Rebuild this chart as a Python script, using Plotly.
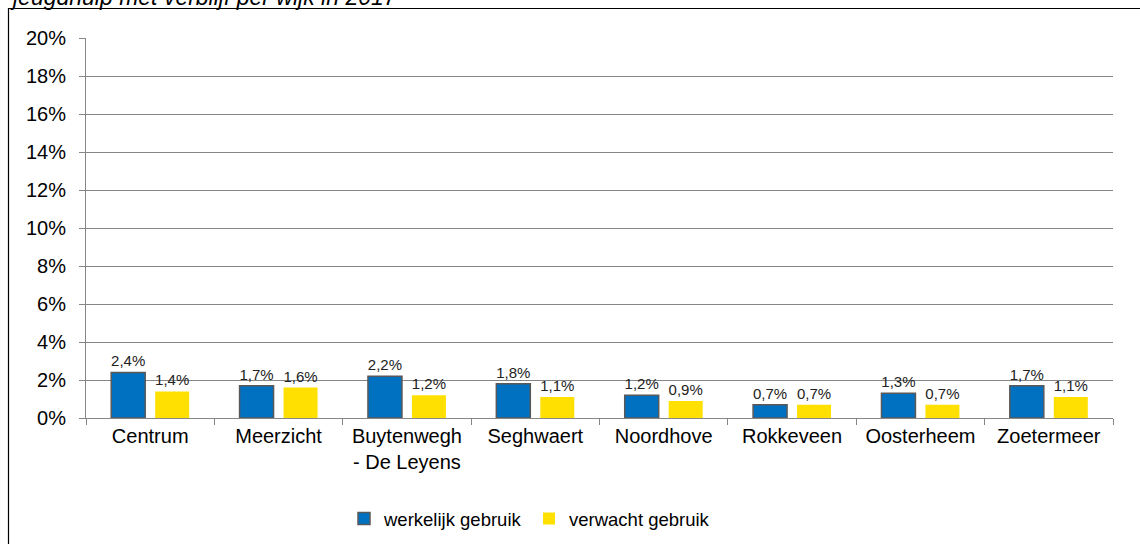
import plotly.graph_objects as go

categories = ["Centrum", "Meerzicht", "Buytenwegh<br>- De Leyens", "Seghwaert",
              "Noordhove", "Rokkeveen", "Oosterheem", "Zoetermeer"]
werkelijk = [2.4, 1.7, 2.2, 1.8, 1.2, 0.7, 1.3, 1.7]
verwacht = [1.4, 1.6, 1.2, 1.1, 0.9, 0.7, 0.7, 1.1]
title_text = "jeugdhulp met verblijf per wijk in 2017"

W, H = 1140, 544
L, R, T, B = 86, 27, 38, 126
pw, ph = W - L - R, H - T - B

def px(x):
    return (x - L) / pw

def py(y):
    return (H - B - y) / ph

fig = go.Figure()
fig.add_trace(go.Bar(
    x=categories, y=werkelijk, name="werkelijk gebruik",
    marker=dict(color="#0070C0", line=dict(color="#595959", width=1.5)),
    texttemplate="%{y:.1f}%", textposition="outside",
    textfont=dict(size=15, color="#222222"), cliponaxis=False,
))
fig.add_trace(go.Bar(
    x=categories, y=verwacht, name="verwacht gebruik",
    marker=dict(color="#FFE000", line=dict(width=0)),
    texttemplate="%{y:.1f}%", textposition="outside",
    textfont=dict(size=15, color="#222222"), cliponaxis=False,
))

fig.update_layout(
    width=W, height=H,
    margin=dict(l=L, r=R, t=T, b=B, autoexpand=False),
    paper_bgcolor="white", plot_bgcolor="white",
    separators=",.",
    barmode="group", bargap=0.315, bargroupgap=0.227,
    font=dict(family="Arial, Liberation Sans, sans-serif", size=20, color="#000000"),
    showlegend=True,
    legend=dict(orientation="h", x=px(344), xanchor="left", y=py(519), yanchor="middle",
                font=dict(size=18.5), traceorder="normal", itemwidth=30,
                entrywidth=140, entrywidthmode="pixels",
                bgcolor="rgba(0,0,0,0)"),
    uniformtext=dict(minsize=15, mode="show"),
)
fig.update_xaxes(
    showline=True, linecolor="#868686", linewidth=1,
    ticks="outside", tickson="boundaries", ticklen=6, tickcolor="#868686",
    showgrid=False, tickfont=dict(size=20), fixedrange=True,
)
fig.update_yaxes(
    range=[0, 20], dtick=2, ticksuffix="%",
    showline=True, linecolor="#868686", linewidth=1,
    ticks="outside", ticklen=6, tickcolor="#868686", ticklabelstandoff=9,
    showgrid=True, gridcolor="#868686", gridwidth=1,
    zeroline=False, tickfont=dict(size=20), fixedrange=True,
)

# outer chart frame
fig.add_shape(type="rect", xref="paper", yref="paper",
              x0=px(8.5), x1=px(1160), y0=py(560), y1=py(8.5),
              line=dict(color="#000000", width=1.2), fillcolor="rgba(0,0,0,0)", layer="below")

# cut-off title
fig.add_annotation(text="<i>" + title_text + "</i>", xref="paper", yref="paper",
                   x=px(8), xanchor="left", y=py(12), yanchor="bottom",
                   showarrow=False, font=dict(size=23, color="#000000"))

fig.write_html("out.html", config={"displayModeBar": False},
               post_script="document.body.style.margin='0';")
